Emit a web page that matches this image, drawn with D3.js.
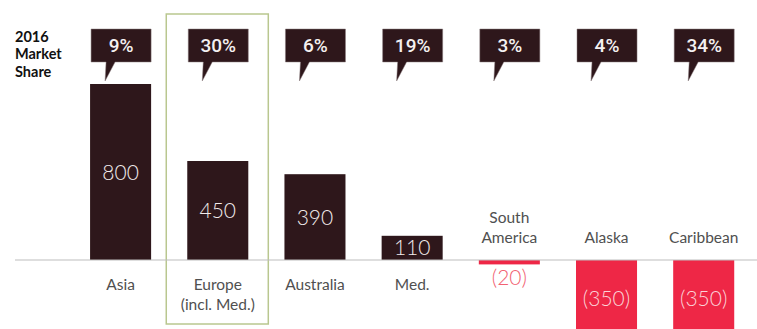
<!DOCTYPE html>
<html><head><meta charset="utf-8">
<script src="https://cdn.jsdelivr.net/npm/d3@7"></script>
<style>
html,body{margin:0;padding:0;background:#fff;}
svg{display:block;}
</style></head>
<body>
<svg id="chart" width="757" height="329"></svg>
<script>
const categories = ["Asia", "Europe (incl. Med.)", "Australia", "Med.", "South America", "Alaska", "Caribbean"];
const categoryLines = [["Asia"], ["Europe", "(incl. Med.)"], ["Australia"], ["Med."], ["South", "America"], ["Alaska"], ["Caribbean"]];
const values = [800, 450, 390, 110, -20, -350, -350];
const valueLabels = ["800", "450", "390", "110", "(20)", "(350)", "(350)"];
const marketShare = ["9%", "30%", "6%", "19%", "3%", "4%", "34%"];
const highlighted = "Europe (incl. Med.)";

const dark = "#2e171b", red = "#ee2746";
const svg = d3.select("#chart");

const x = d3.scaleBand().domain(categories).range([72, 752.3]).paddingInner(0.372).paddingOuter(0.186);
const y = d3.scaleLinear().domain([0, 800]).range([260, 84]);
const bw = x.bandwidth();

// highlight box
svg.append("rect")
  .attr("x", x(highlighted) - 21).attr("y", 14)
  .attr("width", bw + 41).attr("height", 310)
  .attr("fill", "none").attr("stroke", "#b9c78f").attr("stroke-width", 1.5);

// left label
const lt = svg.append("text").attr("x", 15).attr("y", 41.5)
  .attr("font-family", "Lato, 'Open Sans', Arial, sans-serif").attr("font-weight", 700)
  .attr("font-size", 14.5).attr("fill", "#111");
["2016", "Market", "Share"].forEach((t, i) => lt.append("tspan").attr("x", 15).attr("dy", i ? 17.6 : 0).text(t));

// bars
svg.selectAll("rect.bar").data(values).join("rect").attr("class", "bar")
  .attr("x", (d, i) => x(categories[i]))
  .attr("y", d => y(Math.max(0, d)))
  .attr("width", bw)
  .attr("height", d => Math.abs(y(d) - y(0)))
  .attr("fill", d => d >= 0 ? dark : red);

// baseline
svg.append("line").attr("x1", 15).attr("x2", 757).attr("y1", y(0)).attr("y2", y(0))
  .attr("stroke", "#bdbdbd").attr("stroke-width", 1);

// value labels
svg.selectAll("text.val").data(values).join("text").attr("class", "val")
  .attr("x", (d, i) => x(categories[i]) + bw / 2)
  .attr("y", d => {
    if (Math.abs(y(d) - y(0)) < 12) return y(0) + 24.5;
    return (y(d) + y(0)) / 2 + 7.5;
  })
  .attr("text-anchor", "middle")
  .attr("font-family", "Lato, 'Open Sans', sans-serif").attr("font-weight", 300)
  .attr("font-size", 21)
  .attr("fill", d => d >= 0 ? "#f2ecec" : (Math.abs(y(d) - y(0)) < 12 ? "#f26272" : "#fbd3d7"))
  .text((d, i) => valueLabels[i]);

// category labels
categories.forEach((c, i) => {
  const lines = categoryLines[i];
  const neg = values[i] < 0;
  const t = svg.append("text")
    .attr("text-anchor", "middle")
    .attr("font-family", "Lato, 'Open Sans', sans-serif").attr("font-weight", 400)
    .attr("font-size", 15.5).attr("fill", "#505050");
  const cx = x(c) + bw / 2;
  const startY = neg ? y(0) - 17 - (lines.length - 1) * 20 : y(0) + 30;
  lines.forEach((l, j) => t.append("tspan").attr("x", cx).attr("y", startY + j * 19.5).text(l));
});

// market share callouts
categories.forEach((c, i) => {
  const x0 = x(c) + 1, w = bw - 1;
  const top = 29, bot = 62;
  const p = d3.path();
  p.moveTo(x0, top); p.lineTo(x0 + w, top); p.lineTo(x0 + w, bot);
  p.lineTo(x0 + 24, bot); p.lineTo(x0 + 14, 81); p.lineTo(x0 + 15, bot);
  p.lineTo(x0, bot); p.closePath();
  svg.append("path").attr("d", p.toString()).attr("fill", dark)
    .attr("stroke", "#8a7c7e").attr("stroke-width", 0.5);
  svg.append("text").attr("x", x0 + w / 2).attr("y", 51.5)
    .attr("text-anchor", "middle")
    .attr("font-family", "Roboto, 'Open Sans', sans-serif").attr("font-weight", 500)
    .attr("font-size", 19).attr("fill", "#f4f0f0")
    .text(marketShare[i]);
});
</script>
</body></html>
